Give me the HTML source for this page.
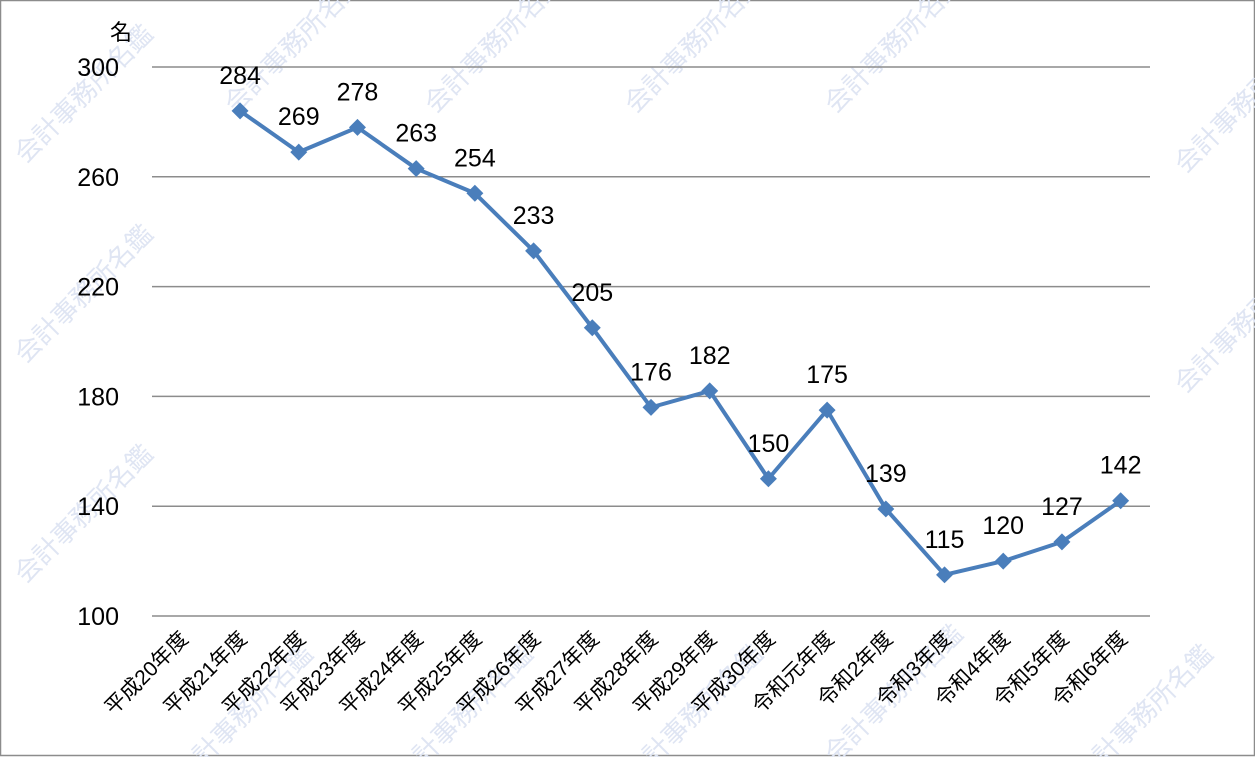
<!DOCTYPE html>
<html><head><meta charset="utf-8"><style>
html,body{margin:0;padding:0;background:#fff}
svg{display:block;font-family:"Liberation Sans","Noto Sans CJK JP",sans-serif}
</style></head><body>
<svg id="chart" width="1255" height="757" viewBox="0 0 1255 757">
<rect x="0.5" y="0.5" width="1254" height="755" fill="#fff" stroke="#8c8c8c" stroke-width="1.5"/>
<g id="wm" fill="#dfe5f3" font-size="26"></g>
<g id="grid"></g>
<g id="ylab" font-size="25" fill="#000"></g>
<text x="110" y="40" font-size="22">名</text>
<g id="xlab" font-size="21" fill="#000"></g>
<g id="series"></g>
</svg>
<script>
const categories=["平成20年度","平成21年度","平成22年度","平成23年度","平成24年度","平成25年度","平成26年度","平成27年度","平成28年度","平成29年度","平成30年度","令和元年度","令和2年度","令和3年度","令和4年度","令和5年度","令和6年度"];
const values=[null,284,269,278,263,254,233,205,176,182,150,175,139,115,120,127,142];
const yTicks=[100,140,180,220,260,300];
const NS="http://www.w3.org/2000/svg";
const x0=152,x1=1150,yTop=67,yBot=616,ymin=100,ymax=300;
const bw=(x1-x0)/categories.length;
const xs=i=>x0+bw*(i+0.5);
const ys=v=>yBot-(v-ymin)/(ymax-ymin)*(yBot-yTop);
function mk(t,a,p){const e=document.createElementNS(NS,t);for(const k in a)e.setAttribute(k,a[k]);p.appendChild(e);return e;}
const wm=document.getElementById('wm');
[[90,100],[90,300],[90,520],[300,50],[250,720],[470,720],[500,50],[700,50],[700,720],[900,50],[900,700],[1150,720],[1250,110],[1250,330]].forEach(([x,y])=>{
 const t=mk('text',{x:x,y:y,transform:`rotate(-45 ${x} ${y})`,'text-anchor':'middle'},wm);
 
 
 t.textContent='会計事務所名鑑';
});
const grid=document.getElementById('grid'),yl=document.getElementById('ylab');
yTicks.forEach(v=>{
 const l=mk('line',{x1:x0,x2:x1,y1:ys(v),y2:ys(v),stroke:'#8c8c8c','stroke-width':1.5},grid);
 
 
 const t=mk('text',{x:119,y:ys(v)+9,'text-anchor':'end'},yl);
 
 
 t.textContent=v;
});
const xl=document.getElementById('xlab');
categories.forEach((c,i)=>{
 const x=xs(i)+8,y=640;
 const t=mk('text',{x:x,y:y,'text-anchor':'end',transform:`rotate(-45 ${x} ${y})`},xl);
 
 
 t.textContent=c;
});
const s=document.getElementById('series');
const pts=[];values.forEach((v,i)=>{if(v!=null)pts.push([xs(i),ys(v),v]);});
const pl=mk('polyline',{points:pts.map(p=>p[0]+','+p[1]).join(' '),fill:'none',stroke:'#4a7ebb','stroke-width':4,'stroke-linejoin':'round'},s);


pts.forEach(p=>{
 const m=mk('rect',{x:p[0]-6,y:p[1]-6,width:12,height:12,fill:'#4a7ebb',transform:`rotate(45 ${p[0]} ${p[1]})`},s);
 
 
 const t=mk('text',{x:p[0],y:p[1]-27,'text-anchor':'middle','font-size':25,fill:'#000'},s);
 
 
 t.textContent=p[2];
});
</script>
</body></html>
